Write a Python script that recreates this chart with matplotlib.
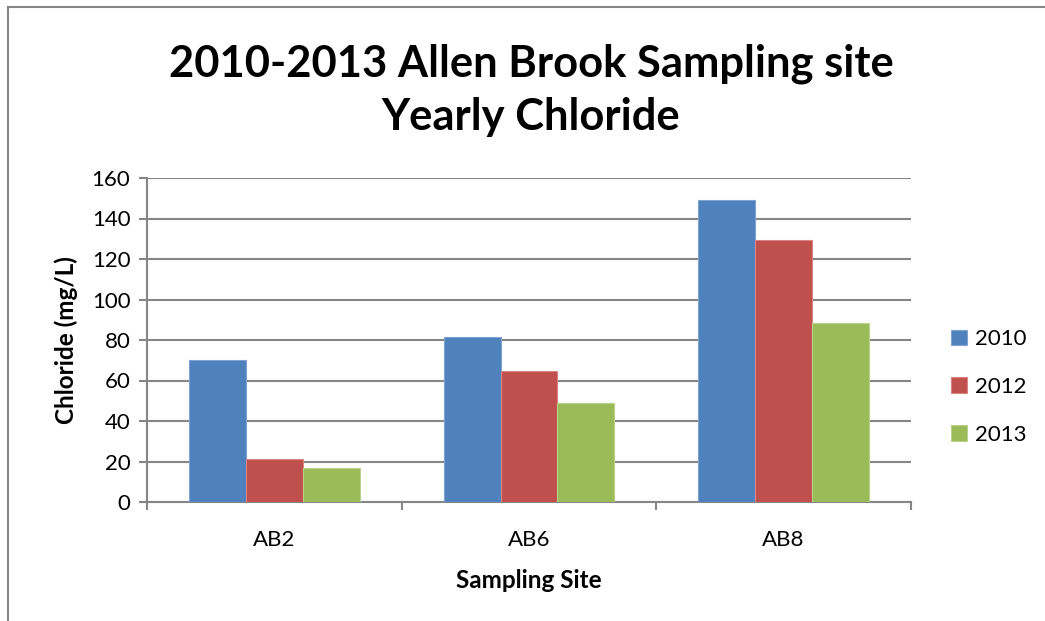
import matplotlib
matplotlib.use('Agg')
import matplotlib.pyplot as plt
import numpy as np

sites = ['AB2', 'AB6', 'AB8']
years = ['2010', '2012', '2013']
chloride_2010 = [70, 81.3, 148.9]
chloride_2012 = [21.1, 64.6, 129.6]
chloride_2013 = [17.0, 48.8, 88.6]
yticks = [0, 20, 40, 60, 80, 100, 120, 140, 160]

colors = ['#4F81BD', '#C0504D', '#9BBB59']
edges = ['#7FA3D3', '#D98481', '#B8D28A']

plt.rcParams['font.family'] = ['Lato', 'DejaVu Sans']

W, H = 1045, 621
fig = plt.figure(figsize=(W / 100, H / 100), dpi=100)
ax = fig.add_axes([147 / W, 1 - 502 / H, (911 - 147) / W, (502 - 178) / H])

x = np.arange(len(sites))
bw = 0.2235
for i, vals in enumerate([chloride_2010, chloride_2012, chloride_2013]):
    ax.bar(x + (i - 1) * bw, vals, bw, color=colors[i], edgecolor=edges[i],
           linewidth=0.8, label=years[i], zorder=3)

ax.set_xlim(-0.5, 2.5)
ax.set_ylim(0, 160)
ax.set_yticks(yticks)
ax.set_xticks(x)
ax.set_xticklabels(sites)
ax.set_xticks([-0.5, 0.5, 1.5, 2.5], minor=True)
ax.tick_params(axis='x', which='major', length=0, pad=20, labelsize=16)
ax.tick_params(axis='x', which='minor', length=6, width=1.5, color='#868686')
ax.tick_params(axis='y', length=6, width=1.5, color='#868686', labelsize=16, pad=6)
ax.yaxis.grid(True, color='#868686', linewidth=1.5, zorder=0)
ax.set_axisbelow(True)
for s in ['top', 'right']:
    ax.spines[s].set_visible(False)
for s in ['left', 'bottom']:
    ax.spines[s].set_color('#868686')
    ax.spines[s].set_linewidth(1.5)

ax.set_ylabel('Chloride (mg/L)', fontsize=17.5, fontweight='bold', labelpad=10)
ax.set_xlabel('Sampling Site', fontsize=17.5, fontweight='bold', labelpad=14)

fig.text(531 / W, 1 - 90 / H, '2010-2013 Allen Brook Sampling site\nYearly Chloride',
         ha='center', va='center', fontsize=31.3, fontweight='bold', linespacing=1.38)

ax.legend(loc='center left', bbox_to_anchor=(931 / W, 1 - 387 / H),
          bbox_transform=fig.transFigure, frameon=False, fontsize=16,
          handlelength=0.7, handleheight=0.7, handletextpad=0.4, labelspacing=1.25)

# outer chart border (left and top visible)
fig.add_artist(plt.Line2D([8 / W, 8 / W], [0, 1 - 7 / H], transform=fig.transFigure,
                          color='#868686', linewidth=1.5))
fig.add_artist(plt.Line2D([8 / W, 1], [1 - 7 / H, 1 - 7 / H], transform=fig.transFigure,
                          color='#868686', linewidth=1.5))

fig.savefig('out.png', dpi=100)
